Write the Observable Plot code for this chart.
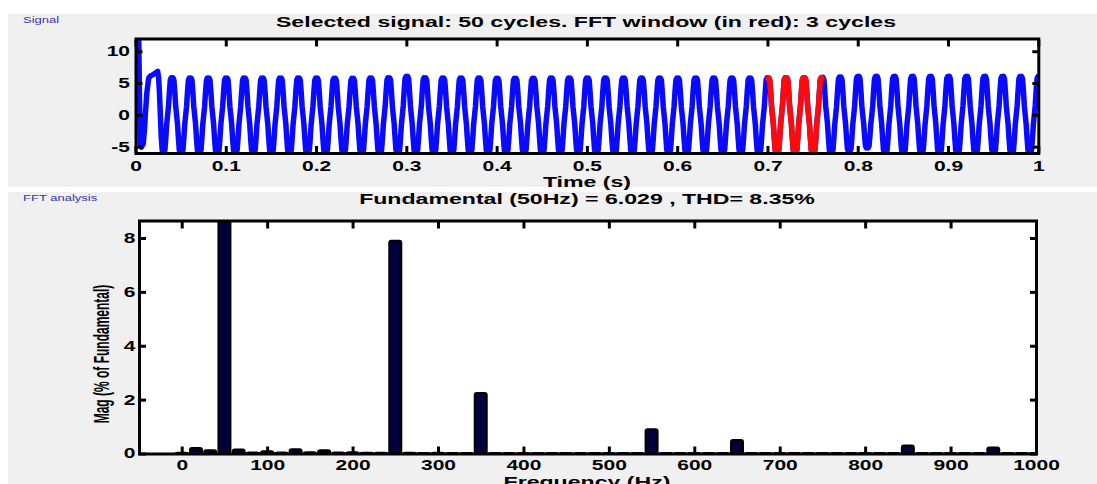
<!DOCTYPE html>
<html><head><meta charset="utf-8">
<script src="https://cdn.jsdelivr.net/npm/d3@7"></script>
<script src="https://cdn.jsdelivr.net/npm/@observablehq/plot@0.6"></script>
<style>
html,body{margin:0;padding:0;background:#fff;}
#root{position:relative;width:1097px;height:484px;overflow:hidden;background:#fff;font-family:"Liberation Sans",Arial,sans-serif;}
.panel{position:absolute;background:#f0f0f0;}
.chart{position:absolute;left:0;}
.ttl{position:absolute;white-space:nowrap;font-weight:bold;font-size:15px;line-height:15px;color:#000;transform:translateX(-50%) scaleX(1.54);}
.tag{position:absolute;white-space:nowrap;font-size:9.3px;line-height:10px;color:#3535a5;transform-origin:0 50%;transform:scaleX(1.4);}
.ylab{position:absolute;width:300px;height:16px;line-height:16px;text-align:center;white-space:nowrap;font-weight:bold;font-size:12px;color:#000;transform:rotate(-90deg) scaleY(1.8);}
</style></head>
<body>
<div id="root">
  <div class="panel" style="left:8px;top:14px;width:1089px;height:173px"></div>
  <div class="panel" style="left:8px;top:192px;width:1089px;height:292px"></div>
  <div id="top" class="chart" style="top:14px"></div>
  <div id="bot" class="chart" style="top:192px"></div>
  <div class="tag" style="left:23px;top:15px">Signal</div>
  <div class="tag" style="left:23px;top:193px">FFT analysis</div>
  <div class="ttl" style="left:586px;top:14px">Selected signal: 50 cycles. FFT window (in red): 3 cycles</div>
  <div class="ttl" style="left:587px;top:174px">Time (s)</div>
  <div class="ttl" style="left:587px;top:191px">Fundamental (50Hz) = 6.029 , THD= 8.35%</div>
  <div class="ttl" style="left:587px;top:474px">Frequency (Hz)</div>
  <div class="ylab" style="left:-48px;top:346px">Mag (% of Fundamental)</div>
</div>
<script>
// ---------- tick values and labels ----------
const topXTicks = [0, 0.1, 0.2, 0.3, 0.4, 0.5, 0.6, 0.7, 0.8, 0.9, 1];
const topXTickLabels = ["0", "0.1", "0.2", "0.3", "0.4", "0.5", "0.6", "0.7", "0.8", "0.9", "1"];
const topYTicks = [-5, 0, 5, 10];
const topYTickLabels = ["-5", "0", "5", "10"];
const botXTicks = [0, 100, 200, 300, 400, 500, 600, 700, 800, 900, 1000];
const botXTickLabels = ["0", "100", "200", "300", "400", "500", "600", "700", "800", "900", "1000"];
const botYTicks = [0, 2, 4, 6, 8];
const botYTickLabels = ["0", "2", "4", "6", "8"];

// ---------- signal ----------
// start-up transient, first 30 ms
const startT = [0, 0.003, 0.0045, 0.006, 0.008, 0.0095, 0.0105, 0.012, 0.014, 0.016, 0.019, 0.022, 0.024, 0.025, 0.026, 0.027, 0.028, 0.029];
const startV = [12.5, 12.5, -4.5, -5.0, -4.5, -2.0, 0.5, 3.5, 5.8, 6.2, 6.4, 6.7, 6.9, 6.0, 3.5, 0, -3.5, -5.5];
// trough values at t = 0.03, 0.05, ... 0.99 (magnitudes)
const troughVals = [5.85, 5.85, 5.85, 5.85, 5.85, 5.85, 5.85, 5.85, 5.85, 5.85,
  5.85, 5.85, 5.85, 5.85, 5.85, 5.85, 5.85, 5.85, 5.85, 5.85,
  5.85, 5.85, 5.85, 5.85, 5.85, 5.85, 5.85, 5.85, 5.85, 5.85,
  5.85, 5.85, 5.85, 5.85, 5.85, 5.85, 5.85, 5.85, 5.6, 5.1,
  5.85, 5.85, 5.85, 5.85, 5.85, 5.85, 5.85, 5.85, 5.85];
// peak values at t = 0.04, 0.06, ... 1.00
const peakVals = [5.9, 5.85, 5.85, 5.85, 5.85, 5.85, 5.85, 5.85, 5.85, 5.8,
  5.8, 5.85, 5.9, 6.1, 5.9, 5.85, 5.85, 5.85, 5.8, 5.8,
  5.8, 5.85, 5.85, 5.85, 5.85, 5.85, 5.85, 5.85, 5.85, 5.85,
  5.85, 5.85, 5.85, 5.9, 5.9, 5.9, 5.95, 6.0, 6.1, 6.1,
  6.1, 6.1, 6.1, 6.1, 6.1, 6.1, 6.1, 6.1, 6.1];
// waveform profile from a peak toward the next trough, 1 ms steps (fraction of amplitude)
const halfProfile = [0.97, 1.0, 0.94, 0.62, 0.24, 0, -0.24, -0.62, -0.94, -1.0];
const fftWindow = [0.70, 0.76];

// ---------- FFT magnitudes (% of fundamental) ----------
const harmFreq = [0, 16.7, 33.3, 50, 66.7, 83.3, 100, 116.7, 133.3, 150, 166.7, 183.3, 200, 216.7, 233.3,
  250, 266.7, 283.3, 300, 316.7, 333.3, 350, 366.7, 383.3, 400, 416.7, 433.3, 450, 466.7, 483.3,
  500, 516.7, 533.3, 550, 566.7, 583.3, 600, 616.7, 633.3, 650, 666.7, 683.3, 700, 716.7, 733.3,
  750, 766.7, 783.3, 800, 816.7, 833.3, 850, 866.7, 883.3, 900, 916.7, 933.3, 950, 966.7, 983.3, 1000];
const harmMag = [0.03, 0.2, 0.12, 100, 0.15, 0.04, 0.08, 0.04, 0.16, 0.05, 0.12, 0.04, 0.05, 0.03, 0.03,
  7.9, 0.03, 0.02, 0.03, 0.02, 0.02, 2.25, 0.02, 0.02, 0.02, 0.02, 0.02, 0.02, 0.02, 0.02,
  0.02, 0.02, 0.02, 0.9, 0.02, 0.02, 0.02, 0.02, 0.02, 0.5, 0.02, 0.02, 0.02, 0.02, 0.02,
  0.02, 0.02, 0.02, 0.02, 0.02, 0.02, 0.3, 0.02, 0.02, 0.02, 0.02, 0.02, 0.22, 0.02, 0.02, 0.02];

// ---------- build tables ----------
const signal = startT.map((t, i) => ({t, v: startV[i]}));
for (let k = 0; k < troughVals.length; k++) {
  const tTrough = 0.03 + 0.02 * k;
  for (let j = 0; j < halfProfile.length; j++) {
    const p = -halfProfile[j];
    signal.push({t: tTrough + 0.001 * j, v: p < 0 ? p * troughVals[k] : p * peakVals[k]});
  }
  const tPeak = tTrough + 0.01;
  if (k < troughVals.length - 1) {
    for (let j = 0; j < halfProfile.length; j++) {
      const p = halfProfile[j];
      signal.push({t: tPeak + 0.001 * j, v: p > 0 ? p * peakVals[k] : p * troughVals[k + 1]});
    }
  } else {
    signal.push({t: tPeak, v: halfProfile[0] * peakVals[k]});
  }
}
const windowPart = signal.filter(d => d.t >= fftWindow[0] - 1e-9 && d.t <= fftWindow[1] + 1e-9);
const bars = harmFreq.map((f, i) => ({f, mag: harmMag[i]}));

const fmt = (ticks, labels) => d => labels[ticks.indexOf(d)];
const font = {fontFamily: "Liberation Sans, Arial, sans-serif", fontSize: 14, fontWeight: "bold"};
const tickStyle = {tickSize: -7, tickFormat: () => "", label: null, strokeWidth: 3};

function stretchTicks(svg) {
  svg.querySelectorAll('g[aria-label$="tick label"] text').forEach(t => {
    const tr = t.getAttribute("transform") || "";
    t.setAttribute("transform", tr + " scale(1.5,1)");
  });
  return svg;
}

const topPlot = Plot.plot({
  width: 1097, height: 173,
  marginLeft: 135.5, marginRight: 58.7, marginTop: 24.5, marginBottom: 34,
  x: {domain: [0, 1]},
  y: {domain: [-6, 12]},
  style: {background: "transparent", color: "black", overflow: "visible", fontFamily: font.fontFamily, fontSize: "14px", fontWeight: "bold"},
  marks: [
    Plot.frame({fill: "white", stroke: "none"}),
    Plot.line(signal, {x: "t", y: "v", stroke: "#0a0aff", strokeWidth: 5.5, strokeLinejoin: "round", clip: true}),
    Plot.line(windowPart, {x: "t", y: "v", stroke: "#ff0a0a", strokeWidth: 5.5, strokeLinejoin: "round", clip: true}),
    Plot.axisX({anchor: "bottom", ticks: topXTicks, ...tickStyle}),
    Plot.axisX({anchor: "top", ticks: topXTicks, ...tickStyle}),
    Plot.axisY({anchor: "left", ticks: topYTicks, ...tickStyle}),
    Plot.axisY({anchor: "right", ticks: topYTicks, ...tickStyle}),
    Plot.axisX({anchor: "bottom", ticks: topXTicks, tickSize: 0, tickPadding: 7.5, tickFormat: fmt(topXTicks, topXTickLabels), label: null, ...font}),
    Plot.axisY({anchor: "left", ticks: topYTicks, tickSize: 0, tickPadding: 6, tickFormat: fmt(topYTicks, topYTickLabels), label: null, ...font}),
    Plot.frame({stroke: "black", strokeWidth: 3})
  ]
});
document.getElementById("top").appendChild(stretchTicks(topPlot));

const botPlot = Plot.plot({
  width: 1097, height: 292,
  marginLeft: 139, marginRight: 61, marginTop: 28.5, marginBottom: 30.5,
  x: {domain: [-50, 1000]},
  y: {domain: [0, 8.65]},
  style: {background: "transparent", color: "black", overflow: "visible", fontFamily: font.fontFamily, fontSize: "14px", fontWeight: "bold"},
  marks: [
    Plot.frame({fill: "white", stroke: "none"}),
    Plot.rect(bars, {x1: "f", x2: "f", y1: () => 0, y2: "mag", insetLeft: -6, insetRight: -6, rx: 2,
      fill: "#00003c", stroke: "black", strokeWidth: 2, clip: true}),
    Plot.axisX({anchor: "bottom", ticks: botXTicks, ...tickStyle}),
    Plot.axisX({anchor: "top", ticks: botXTicks, ...tickStyle}),
    Plot.axisY({anchor: "left", ticks: botYTicks, ...tickStyle}),
    Plot.axisY({anchor: "right", ticks: botYTicks, ...tickStyle}),
    Plot.axisX({anchor: "bottom", ticks: botXTicks, tickSize: 0, tickPadding: 6.5, tickFormat: fmt(botXTicks, botXTickLabels), label: null, ...font}),
    Plot.axisY({anchor: "left", ticks: botYTicks, tickSize: 0, tickPadding: 4, tickFormat: fmt(botYTicks, botYTickLabels), label: null, ...font}),
    Plot.frame({stroke: "black", strokeWidth: 3})
  ]
});
document.getElementById("bot").appendChild(stretchTicks(botPlot));
</script>
</body></html>
